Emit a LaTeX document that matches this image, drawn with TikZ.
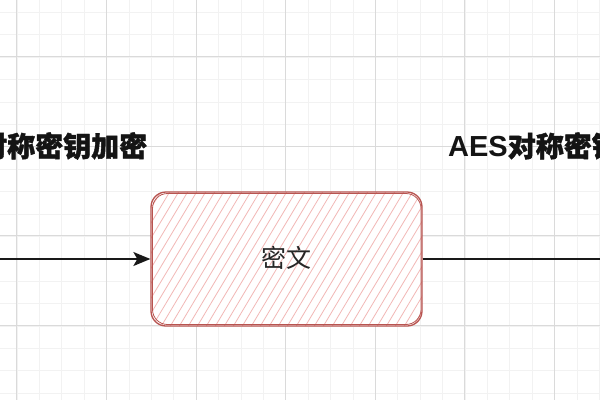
\documentclass[tikz,border=0pt]{standalone}
\usepackage{fontspec}
\newfontfamily\cjk{Noto Sans CJK SC}
\newfontfamily\cjkb{Noto Sans CJK SC}[FakeBold=1.5]
\newfontfamily\latb{Liberation Sans}
\usetikzlibrary{arrows.meta}
\definecolor{gridmin}{HTML}{F2F2F2}
\definecolor{gridmaj}{HTML}{DADADA}
\definecolor{boxline}{HTML}{B85450}
\definecolor{hatch}{HTML}{F2B8B6}
\tikzset{
  lbl/.style={inner sep=0pt, anchor=west, font=\cjkb\bfseries\fontsize{28}{28}\selectfont, text=black!92},
  boxtxt/.style={inner sep=0pt, font=\cjk\fontsize{25}{25}\selectfont, text=black!85},
  conn/.style={line width=1.6pt, black!90},
}
\begin{document}
\begin{tikzpicture}[x=1pt,y=-1pt]
\useasboundingbox (0,0) rectangle (600,400);
\fill[white] (0,0) rectangle (600,400);
% minor grid
\foreach \i in {0,...,30} {
  \draw[gridmin, line width=0.6pt] ({-5.6+22.4*\i},0) -- ({-5.6+22.4*\i},400);
}
\foreach \j in {0,...,20} {
  \draw[gridmin, line width=0.6pt] (0,{12.2+22.4*\j}) -- (600,{12.2+22.4*\j});
}
% major grid
\foreach \i in {0,...,7} {
  \draw[gridmaj, line width=0.8pt] ({16.8+89.6*\i},0) -- ({16.8+89.6*\i},400);
}
\foreach \j in {0,...,4} {
  \draw[gridmaj, line width=0.8pt] (0,{56.6+89.6*\j}) -- (600,{56.6+89.6*\j});
}
% box hatch
\begin{scope}
  \clip[rounded corners=15pt] (151,192) rectangle (422,326);
  \fill[white] (151,192) rectangle (422,326);
  \foreach \k in {0,...,50} {
    \draw[hatch, line width=0.8pt] ({60+9*\k},330) -- ({60+9*\k+85},188);
  }
\end{scope}
\node[draw=boxline, line width=1.3pt, rounded corners=15pt, minimum width=271pt, minimum height=134pt, inner sep=0pt] (box) at (286.5,259) {};
\draw[boxline, line width=0.8pt, rounded corners=15pt] (152.5,193.5) rectangle (421,324.5);
\node[boxtxt] (txt) at (286,258) {密文};
% connectors
\coordinate (lin) at (0,259);
\coordinate (rout) at (600,259);
\draw[conn, -{Stealth[length=17pt,width=14pt,inset=4pt]}] (lin) -- (box.west);
\draw[conn] (box.east) -- (rout);
% labels
\node[lbl] (l1) at (-21,146) {对称密钥加密};
\node[lbl] (l2) at (448,146) {{\latb\bfseries\fontsize{29}{29}\selectfont AES}对称密钥};
\end{tikzpicture}
\end{document}
